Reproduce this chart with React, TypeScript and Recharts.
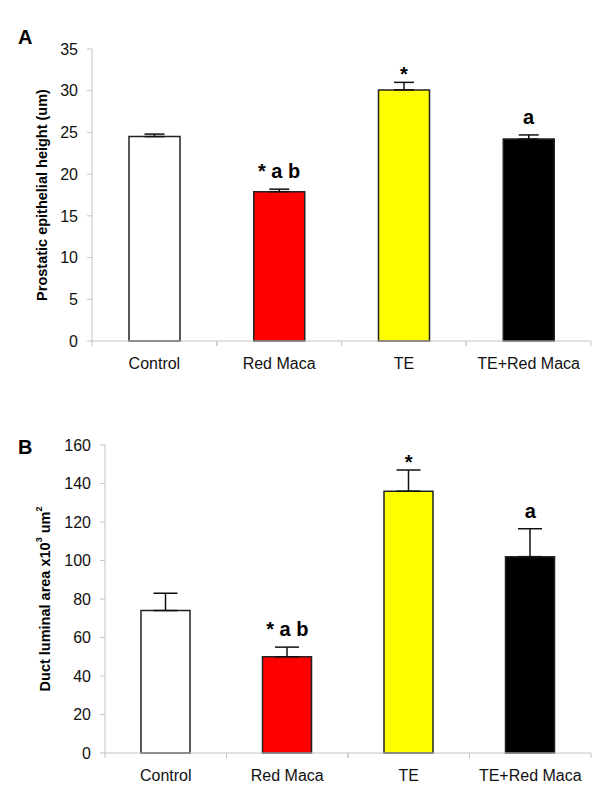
import React from "react";
import { Bar, Cell, ComposedChart, ErrorBar, Scatter, XAxis, YAxis } from "recharts";

const groups = ["Control", "Red Maca", "TE", "TE+Red Maca"];
const barColors = ["#ffffff", "#ff0000", "#ffff00", "#000000"];
const marks = ["", "* a b", "*", "a"];

// panel A: prostatic epithelial height
const heightMeans = [24.5, 17.9, 30.1, 24.2];
const heightErrors = [0.3, 0.3, 0.9, 0.5];
const heightTicks = [0, 5, 10, 15, 20, 25, 30, 35];

// panel B: duct luminal area
const areaMeans = [74, 50, 136, 102];
const areaErrors = [9, 5, 11, 14.5];
const areaTicks = [0, 20, 40, 60, 80, 100, 120, 140, 160];

const FONT = "'Liberation Sans', Arial, sans-serif";
const AXIS_GRAY = "#c4c4c4";
const CHART_W = 600;
const RIGHT = 9;

function buildRows(means: number[], errors: number[]) {
  return groups.map((group, i) => ({
    group,
    value: means[i],
    err: [0, errors[i]],
    top: means[i] + errors[i],
    mark: marks[i],
  }));
}

function CategoryTick(props: any) {
  const { x, y, payload, band } = props;
  const half = band / 2;
  return (
    <g>
      <line x1={x - half} x2={x - half} y1={y} y2={y + 5} stroke={AXIS_GRAY} />
      <line x1={x + half} x2={x + half} y1={y} y2={y + 5} stroke={AXIS_GRAY} />
      <text x={x} y={y + 28} textAnchor="middle" fontSize={16} fill="#111" fontFamily={FONT}>
        {payload.value}
      </text>
    </g>
  );
}

function MarkShape(props: any) {
  const { cx, cy, payload } = props;
  if (!payload.mark) return <g />;
  const lift = payload.mark === "*" ? 1 : 11;
  return (
    <text
      x={cx}
      y={cy - lift}
      textAnchor="middle"
      fontSize={20}
      fontWeight="bold"
      fill="#000"
      fontFamily={FONT}
    >
      {payload.mark}
    </text>
  );
}

interface PanelProps {
  rows: ReturnType<typeof buildRows>;
  ticks: number[];
  height: number;
  top: number;
  bottom: number;
  left: number;
  barSize: number;
  capWidth: number;
  titleX: number;
  title: React.ReactNode;
}

function Panel({ rows, ticks, height, top, bottom, left, barSize, capWidth, titleX, title }: PanelProps) {
  const band = (CHART_W - RIGHT - left - 60) / groups.length;
  return (
    <ComposedChart
      width={CHART_W}
      height={height}
      data={rows}
      margin={{ top, right: RIGHT, bottom, left }}
    >
      <XAxis
        dataKey="group"
        height={30}
        axisLine={{ stroke: AXIS_GRAY }}
        tickLine={false}
        tickSize={0}
        tickMargin={0}
        interval={0}
        tick={<CategoryTick band={band} />}
      />
      <YAxis
        width={60}
        domain={[0, ticks[ticks.length - 1]]}
        ticks={ticks}
        interval={0}
        axisLine={{ stroke: AXIS_GRAY }}
        tickLine={{ stroke: AXIS_GRAY }}
        tickSize={5}
        tickMargin={9}
        tick={{ fontSize: 16, fill: "#111", fontFamily: FONT }}
        label={{
          content: ({ viewBox }: any) => (
            <text
              x={titleX}
              y={viewBox.y + viewBox.height / 2}
              transform={`rotate(-90 ${titleX} ${viewBox.y + viewBox.height / 2})`}
              textAnchor="middle"
              dominantBaseline="middle"
              fontSize={14.5}
              fontWeight="bold"
              fill="#000"
              fontFamily={FONT}
            >
              {title}
            </text>
          ),
        }}
      />
      <Bar dataKey="value" barSize={barSize} stroke="#222" strokeWidth={1.5} isAnimationActive={false}>
        {rows.map((row, i) => (
          <Cell key={row.group} fill={barColors[i]} />
        ))}
        <ErrorBar dataKey="err" width={capWidth} stroke="#111" strokeWidth={1.5} direction="y" />
      </Bar>
      <Scatter dataKey="top" shape={<MarkShape />} isAnimationActive={false} />
    </ComposedChart>
  );
}

function PanelLetter({ text, top }: { text: string; top: number }) {
  return (
    <div
      style={{
        position: "absolute",
        left: 18,
        top,
        fontSize: 20,
        lineHeight: "20px",
        fontWeight: "bold",
        fontFamily: FONT,
      }}
    >
      {text}
    </div>
  );
}

export default function App() {
  const heightRows = buildRows(heightMeans, heightErrors);
  const areaRows = buildRows(areaMeans, areaErrors);
  return (
    <div
      style={{
        position: "absolute",
        left: 0,
        top: 0,
        width: 600,
        height: 806,
        background: "#fff",
        fontFamily: FONT,
      }}
    >
      <div style={{ position: "absolute", left: 0, top: 0 }}>
        <Panel
          rows={heightRows}
          ticks={heightTicks}
          height={400}
          top={49}
          bottom={29}
          left={32}
          barSize={51}
          capWidth={10}
          titleX={43}
          title="Prostatic epithelial height (um)"
        />
      </div>
      <div style={{ position: "absolute", left: 0, top: 400 }}>
        <Panel
          rows={areaRows}
          ticks={areaTicks}
          height={406}
          top={45}
          bottom={23}
          left={45}
          barSize={49}
          capWidth={12}
          titleX={46}
          title={
            <>
              Duct luminal area x10
              <tspan dy={-6} fontSize={9}>3</tspan>
              <tspan dy={6}> um</tspan>
              <tspan dy={-6} fontSize={9}>2</tspan>
            </>
          }
        />
      </div>
      <PanelLetter text="A" top={27} />
      <PanelLetter text="B" top={437} />
    </div>
  );
}
